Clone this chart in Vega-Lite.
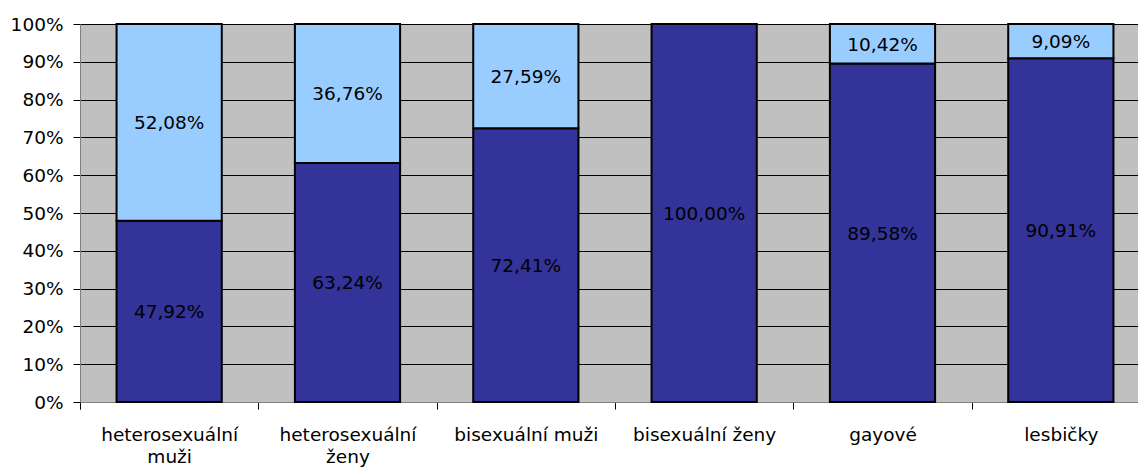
{
  "$schema": "https://vega.github.io/schema/vega-lite/v6.json",
  "width": 1058,
  "height": 378,
  "autosize": {"type": "none"},
  "padding": {"left": 80, "top": 24, "right": 0, "bottom": 67},
  "background": "white",
  "config": {
    "view": {"fill": "#C0C0C0", "stroke": null},
    "font": "DejaVu Sans",
    "axisY": {
      "title": null,
      "values": [0, 10, 20, 30, 40, 50, 60, 70, 80, 90, 100],
      "labelExpr": "datum.value + '%'",
      "labelFontSize": 18.5,
      "labelColor": "black",
      "labelPadding": 10,
      "labelOverlap": false,
      "tickSize": 7,
      "tickColor": "black",
      "domainColor": "#808080",
      "grid": true,
      "gridColor": "black",
      "gridWidth": 1,
      "gridOpacity": 1
    }
  },
  "data": {
    "values": [
      {"group": "heterosexuální muži", "series": "řada 1", "ord": 1, "value": 47.92},
      {"group": "heterosexuální muži", "series": "řada 2", "ord": 2, "value": 52.08},
      {"group": "heterosexuální ženy", "series": "řada 1", "ord": 1, "value": 63.24},
      {"group": "heterosexuální ženy", "series": "řada 2", "ord": 2, "value": 36.76},
      {"group": "bisexuální muži", "series": "řada 1", "ord": 1, "value": 72.41},
      {"group": "bisexuální muži", "series": "řada 2", "ord": 2, "value": 27.59},
      {"group": "bisexuální ženy", "series": "řada 1", "ord": 1, "value": 100.0},
      {"group": "gayové", "series": "řada 1", "ord": 1, "value": 89.58},
      {"group": "gayové", "series": "řada 2", "ord": 2, "value": 10.42},
      {"group": "lesbičky", "series": "řada 1", "ord": 1, "value": 90.91},
      {"group": "lesbičky", "series": "řada 2", "ord": 2, "value": 9.09}
    ]
  },
  "transform": [
    {"calculate": "replace(format(datum.value, '.2f'), '.', ',') + '%'", "as": "label"}
  ],
  "encoding": {
    "x": {
      "field": "group",
      "type": "nominal",
      "sort": ["heterosexuální muži", "heterosexuální ženy", "bisexuální muži", "bisexuální ženy", "gayové", "lesbičky"],
      "scale": {"range": [0, 1070], "paddingInner": 0.41, "paddingOuter": 0.205},
      "axis": {
        "title": null,
        "labelAngle": 0,
        "labelFontSize": 18.5,
        "labelColor": "black",
        "labelPadding": 16,
        "labelLineHeight": 22,
        "labelExpr": "indexof(datum.label, 'heterosexuální') == 0 ? split(datum.label, ' ') : datum.label",
        "bandPosition": 0,
        "tickExtra": true,
        "tickOffset": -36.56,
        "labelOffset": 36.56,
        "tickSize": 7,
        "tickColor": "black",
        "domainColor": "#808080",
        "grid": false
      }
    }
  },
  "layer": [
    {
      "mark": {"type": "bar", "stroke": "black", "strokeWidth": 2},
      "encoding": {
        "y": {
          "field": "value",
          "type": "quantitative",
          "stack": "zero",
          "scale": {"domain": [0, 100], "nice": false}
        },
        "color": {
          "field": "series",
          "type": "nominal",
          "scale": {"domain": ["řada 1", "řada 2"], "range": ["#333399", "#99CCFF"]},
          "legend": null
        },
        "order": {"field": "ord", "type": "quantitative"}
      }
    },
    {
      "mark": {"type": "text", "fontSize": 18.5, "color": "black", "dy": 1},
      "encoding": {
        "y": {"field": "value", "type": "quantitative", "stack": "zero", "bandPosition": 0.5},
        "text": {"field": "label", "type": "nominal"},
        "order": {"field": "ord", "type": "quantitative"}
      }
    }
  ]
}
